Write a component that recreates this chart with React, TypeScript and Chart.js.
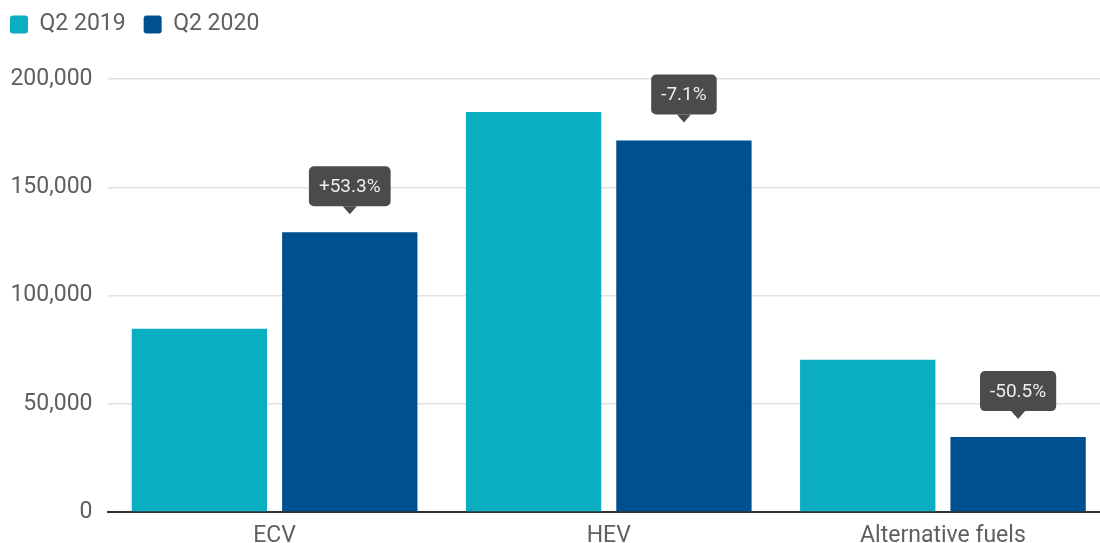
import React, { useEffect, useRef } from 'react';
import { Chart, registerables } from 'chart.js';

Chart.register(...registerables);

const categories = ['ECV', 'HEV', 'Alternative fuels'];
const seriesNames = ['Q2 2019', 'Q2 2020'];
const q2019 = [84600, 184800, 70300];
const q2020 = [129200, 171600, 34600];
const changeLabels = ['+53.3%', '-7.1%', '-50.5%'];
const yMax = 200000;
const yStep = 50000;

const colors = ['#0badc1', '#00508f'];
const textColor = '#5f5f5f';
const fontFamily = 'Roboto, "Noto Sans", sans-serif';

const legendExtra = {
  id: 'legendExtra',
  beforeInit(chart: any) {
    const legend = chart.legend;
    if (!legend) return;
    const origFit = legend.fit;
    legend.fit = function () {
      origFit.bind(legend)();
      this.height += 33;
    };
  },
};

const calloutPlugin = {
  id: 'callouts',
  afterDatasetsDraw(chart: any) {
    const meta = chart.getDatasetMeta(1);
    const ctx = chart.ctx;
    ctx.save();
    ctx.font = `19px ${fontFamily}`;
    meta.data.forEach((bar: any, i: number) => {
      const text = changeLabels[i];
      const tw = ctx.measureText(text).width;
      const w = tw + 20;
      const h = 40;
      const tipY = bar.y - 18;
      const boxBottom = tipY - 8;
      const x0 = bar.x - w / 2;
      const y0 = boxBottom - h;
      ctx.fillStyle = '#4b4b4b';
      ctx.beginPath();
      ctx.roundRect(x0, y0, w, h, 5);
      ctx.fill();
      ctx.beginPath();
      ctx.moveTo(bar.x - 7, boxBottom);
      ctx.lineTo(bar.x, tipY);
      ctx.lineTo(bar.x + 7, boxBottom);
      ctx.closePath();
      ctx.fill();
      ctx.fillStyle = '#eeeeee';
      ctx.textAlign = 'center';
      ctx.textBaseline = 'middle';
      ctx.fillText(text, bar.x, y0 + h / 2 + 1);
    });
    ctx.restore();
  },
};

export default function App() {
  const canvasRef = useRef<HTMLCanvasElement | null>(null);

  useEffect(() => {
    if (!canvasRef.current) return;
    const padLeft = -8;
    const chart = new Chart(canvasRef.current, {
      type: 'bar',
      data: {
        labels: categories,
        datasets: [
          {
            label: seriesNames[0],
            data: q2019,
            backgroundColor: colors[0],
            categoryPercentage: 0.9,
            barPercentage: 0.9,
          },
          {
            label: seriesNames[1],
            data: q2020,
            backgroundColor: colors[1],
            categoryPercentage: 0.9,
            barPercentage: 0.9,
          },
        ],
      },
      options: {
        animation: false,
        responsive: true,
        maintainAspectRatio: false,
        layout: { padding: { left: padLeft, right: 0, top: -5, bottom: 0 } },
        plugins: {
          legend: {
            position: 'top',
            align: 'start',
            labels: {
              boxWidth: 18,
              boxHeight: 18,
              padding: 18,
              useBorderRadius: true,
              borderRadius: 3,
              color: textColor,
              font: { family: fontFamily, size: 23 },
            },
          },
          tooltip: { enabled: false },
        },
        scales: {
          x: {
            grid: { display: false, drawTicks: false },
            border: { display: true, color: '#333333', width: 2 },
            ticks: {
              color: textColor,
              font: { family: fontFamily, size: 23 },
              padding: 10,
            },
            afterFit: (s: any) => {
              s.height = 31;
            },
          },
          y: {
            min: 0,
            max: yMax,
            border: { display: false },
            grid: {
              color: '#e2e2e2',
              lineWidth: 1.5,
              drawTicks: false,
            },
            ticks: {
              stepSize: yStep,
              color: textColor,
              font: { family: fontFamily, size: 23 },
              padding: 15,
              callback: (v: any) => Number(v).toLocaleString('en-US'),
            },
            afterFit: (s: any) => {
              s.width = 107.5 - padLeft;
            },
          },
        },
      },
      plugins: [legendExtra, calloutPlugin],
    });
    return () => chart.destroy();
  }, []);

  return (
    <div style={{ position: 'fixed', left: 0, top: 0, width: 1110, height: 543, background: '#fff' }}>
      <canvas ref={canvasRef} />
    </div>
  );
}
